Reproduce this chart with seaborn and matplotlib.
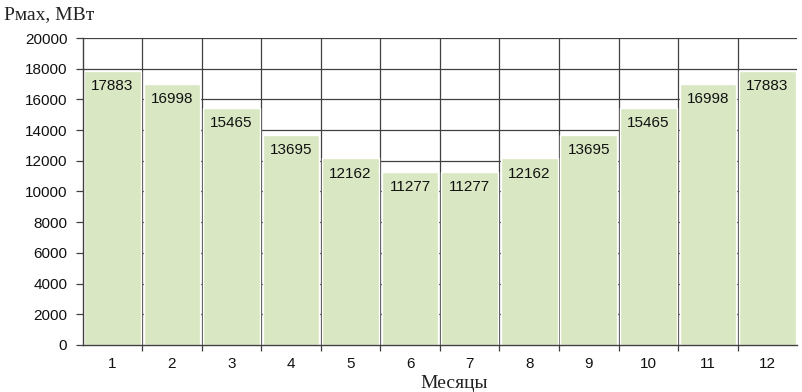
import matplotlib
matplotlib.use("Agg")
import matplotlib.pyplot as plt
import seaborn as sns
import pandas as pd
import numpy as np

months = ["1", "2", "3", "4", "5", "6", "7", "8", "9", "10", "11", "12"]
pmax = [17883, 16998, 15465, 13695, 12162, 11277, 11277, 12162, 13695, 15465, 16998, 17883]
yticks = [0, 2000, 4000, 6000, 8000, 10000, 12000, 14000, 16000, 18000, 20000]

sns.set_theme(style="white")
plt.rcParams['font.family'] = ['Liberation Sans', 'DejaVu Sans']

df = pd.DataFrame({"month": months, "pmax": pmax})

fig = plt.figure(figsize=(8.02, 3.92), dpi=100)
ax = fig.add_axes([0.103, 0.12, 0.891, 0.783])

# grid behind bars
for y in yticks[1:]:
    ax.axhline(y, color="#404040", lw=0.9, zorder=0)
bounds = np.arange(0.5, 11.5, 1.0)
for b in bounds:
    ax.axvline(b, color="#404040", lw=0.9, zorder=0)

sns.barplot(data=df, x="month", y="pmax", color="#d9e7c3", saturation=1,
            width=0.95, ax=ax, zorder=2)

for c in ax.containers:
    texts = ax.bar_label(c, labels=[str(v) for v in pmax], padding=-11, fontsize=11,
                         color="#111111", zorder=3)
    for t in texts:
        t.set_va("center")

ax.set_xlim(-0.5, 11.5)
ax.set_ylim(0, 20000)
ax.set_yticks(yticks)
ax.set_yticklabels([str(v) for v in yticks], fontsize=11, color="#111111")
ax.set_xticks(range(12))
ax.set_xticklabels(months, fontsize=11, color="#111111")
ax.set_xticks(bounds, minor=True)
ax.tick_params(axis="x", which="major", length=0, pad=9)
ax.tick_params(axis="x", which="minor", length=4, width=0.9, color="#404040", bottom=True)
ax.tick_params(axis="y", length=5, width=0.9, color="#404040", left=True, pad=6)
ax.set_xlabel("")
ax.set_ylabel("")
for s in ["top", "right"]:
    ax.spines[s].set_visible(False)
for s in ["left", "bottom"]:
    ax.spines[s].set_color("#404040")
    ax.spines[s].set_linewidth(1.0)

fig.text(0.005, 0.962, "Рмах, МВт", fontsize=14, family=["Liberation Serif", "DejaVu Serif"],
         color="#222222", va="center", ha="left")
fig.text(0.566, 0.022, "Месяцы", fontsize=14, family=["Liberation Serif", "DejaVu Serif"],
         color="#222222", va="center", ha="center")

fig.savefig("out.png", dpi=100, facecolor="white")
